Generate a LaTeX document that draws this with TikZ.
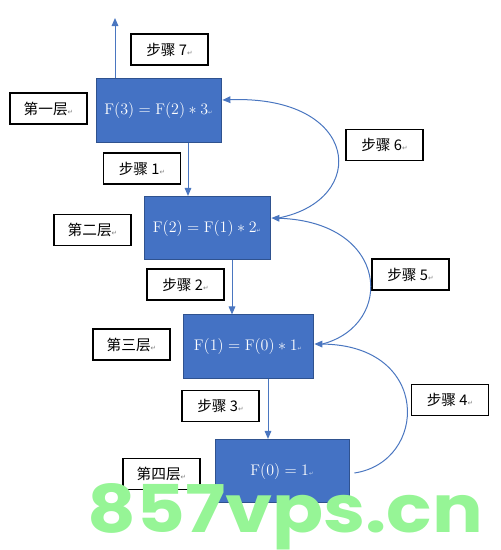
\documentclass[tikz,border=0pt]{standalone}
\usepackage{fontspec}
\usepackage{graphicx}
\usetikzlibrary{arrows.meta,calc}
\newfontfamily\cjk{Noto Sans CJK SC}
\newfontfamily\symf{DejaVu Sans}
\newfontfamily\wmfont{Poppins}
\definecolor{boxblue}{HTML}{4472C4}
\definecolor{boxedge}{HTML}{2F528F}
\definecolor{linkblue}{HTML}{4A76C0}
\definecolor{wmgreen}{RGB}{150,245,150}
\newcommand{\rmark}{{\symf\fontsize{5}{5}\selectfont\textcolor{gray}{↵}}}
\newcommand{\wmark}{{\symf\fontsize{4}{4}\selectfont\textcolor{white!70!boxblue}{↵}}}
\begin{document}
\begin{tikzpicture}[x=0.75pt,y=-0.75pt,
  calcbox/.style={draw=boxedge, line width=0.6pt, fill=boxblue, text=white, inner sep=0pt, minimum height=47.5pt, font=\fontsize{11.5}{13}\selectfont},
  tag/.style={draw=black, line width=1pt, fill=white, inner sep=0pt, minimum width=57.75pt, minimum height=23.25pt, font=\cjk\fontsize{11}{13}\selectfont},
  arr/.style={draw=linkblue, line width=0.75pt, -{Triangle[length=6pt,width=5pt]}},
]
\useasboundingbox (0,0) rectangle (500,550);
% calculation boxes
\node[calcbox, minimum width=93.75pt] (b1) at (158.5,110.5) {$\mathrm{F}(3)=\mathrm{F}(2)*3$\wmark};
\node[calcbox, minimum width=94.5pt] (b2) at (207,228) {$\mathrm{F}(2)=\mathrm{F}(1)*2$\wmark};
\node[calcbox, minimum width=97.5pt] (b3) at (248,346.5) {$\mathrm{F}(1)=\mathrm{F}(0)*1$\wmark};
\node[calcbox, minimum width=100.5pt] (b4) at (282,471) {$\mathrm{F}(0)=1$\wmark};
% labels
\node[tag] (s7) at (169.5,49.5) {步骤 7\rmark};
\node[tag] (l1) at (48.5,108.5) {第一层\rmark};
\node[tag] (s1) at (142,168.5) {步骤 1\rmark};
\node[tag] (l2) at (92.5,230) {第二层\rmark};
\node[tag] (s6) at (384.5,145) {步骤 6\rmark};
\node[tag] (s2) at (185.5,284.5) {步骤 2\rmark};
\node[tag] (s5) at (410.5,274.5) {步骤 5\rmark};
\node[tag] (l3) at (131.5,344.5) {第三层\rmark};
\node[tag] (s3) at (220.5,406) {步骤 3\rmark};
\node[tag] (s4) at (450,400) {步骤 4\rmark};
\node[tag] (l4) at (161.5,474) {第四层\rmark};
% column coordinates
\coordinate (c115) at (115,0);
\coordinate (c188) at (188,0);
\coordinate (c232) at (232,0);
\coordinate (c268) at (268,0);
\coordinate (top) at (115,18);
% straight arrows
\draw[arr] (b1.north -| c115) -- (top);
\draw[arr] (b1.south -| c188) -- (b2.north -| c188);
\draw[arr] (b2.south -| c232) -- (b3.north -| c232);
\draw[arr] (b3.south -| c268) -- (b4.north -| c268);
% return curves
\draw[arr] ($(b4.east)+(5,2)$) .. controls (428,462) and (432,345) .. ($(b3.east)+(1,-2.5)$);
\draw[arr] ($(b3.east)+(9,-2.5)$) .. controls (395,325) and (390,222) .. ($(b2.east)+(1,-10)$);
\draw[arr] ($(b2.east)+(8,-10)$) .. controls (370,200) and (360,95) .. ($(b1.east)+(1,-10.5)$);
% watermark
\node[anchor=base west, inner sep=0pt, text=wmgreen] (wm) at (87,532) {\resizebox{297pt}{36.75pt}{\wmfont\bfseries 857vps.cn}};
\end{tikzpicture}
\end{document}
